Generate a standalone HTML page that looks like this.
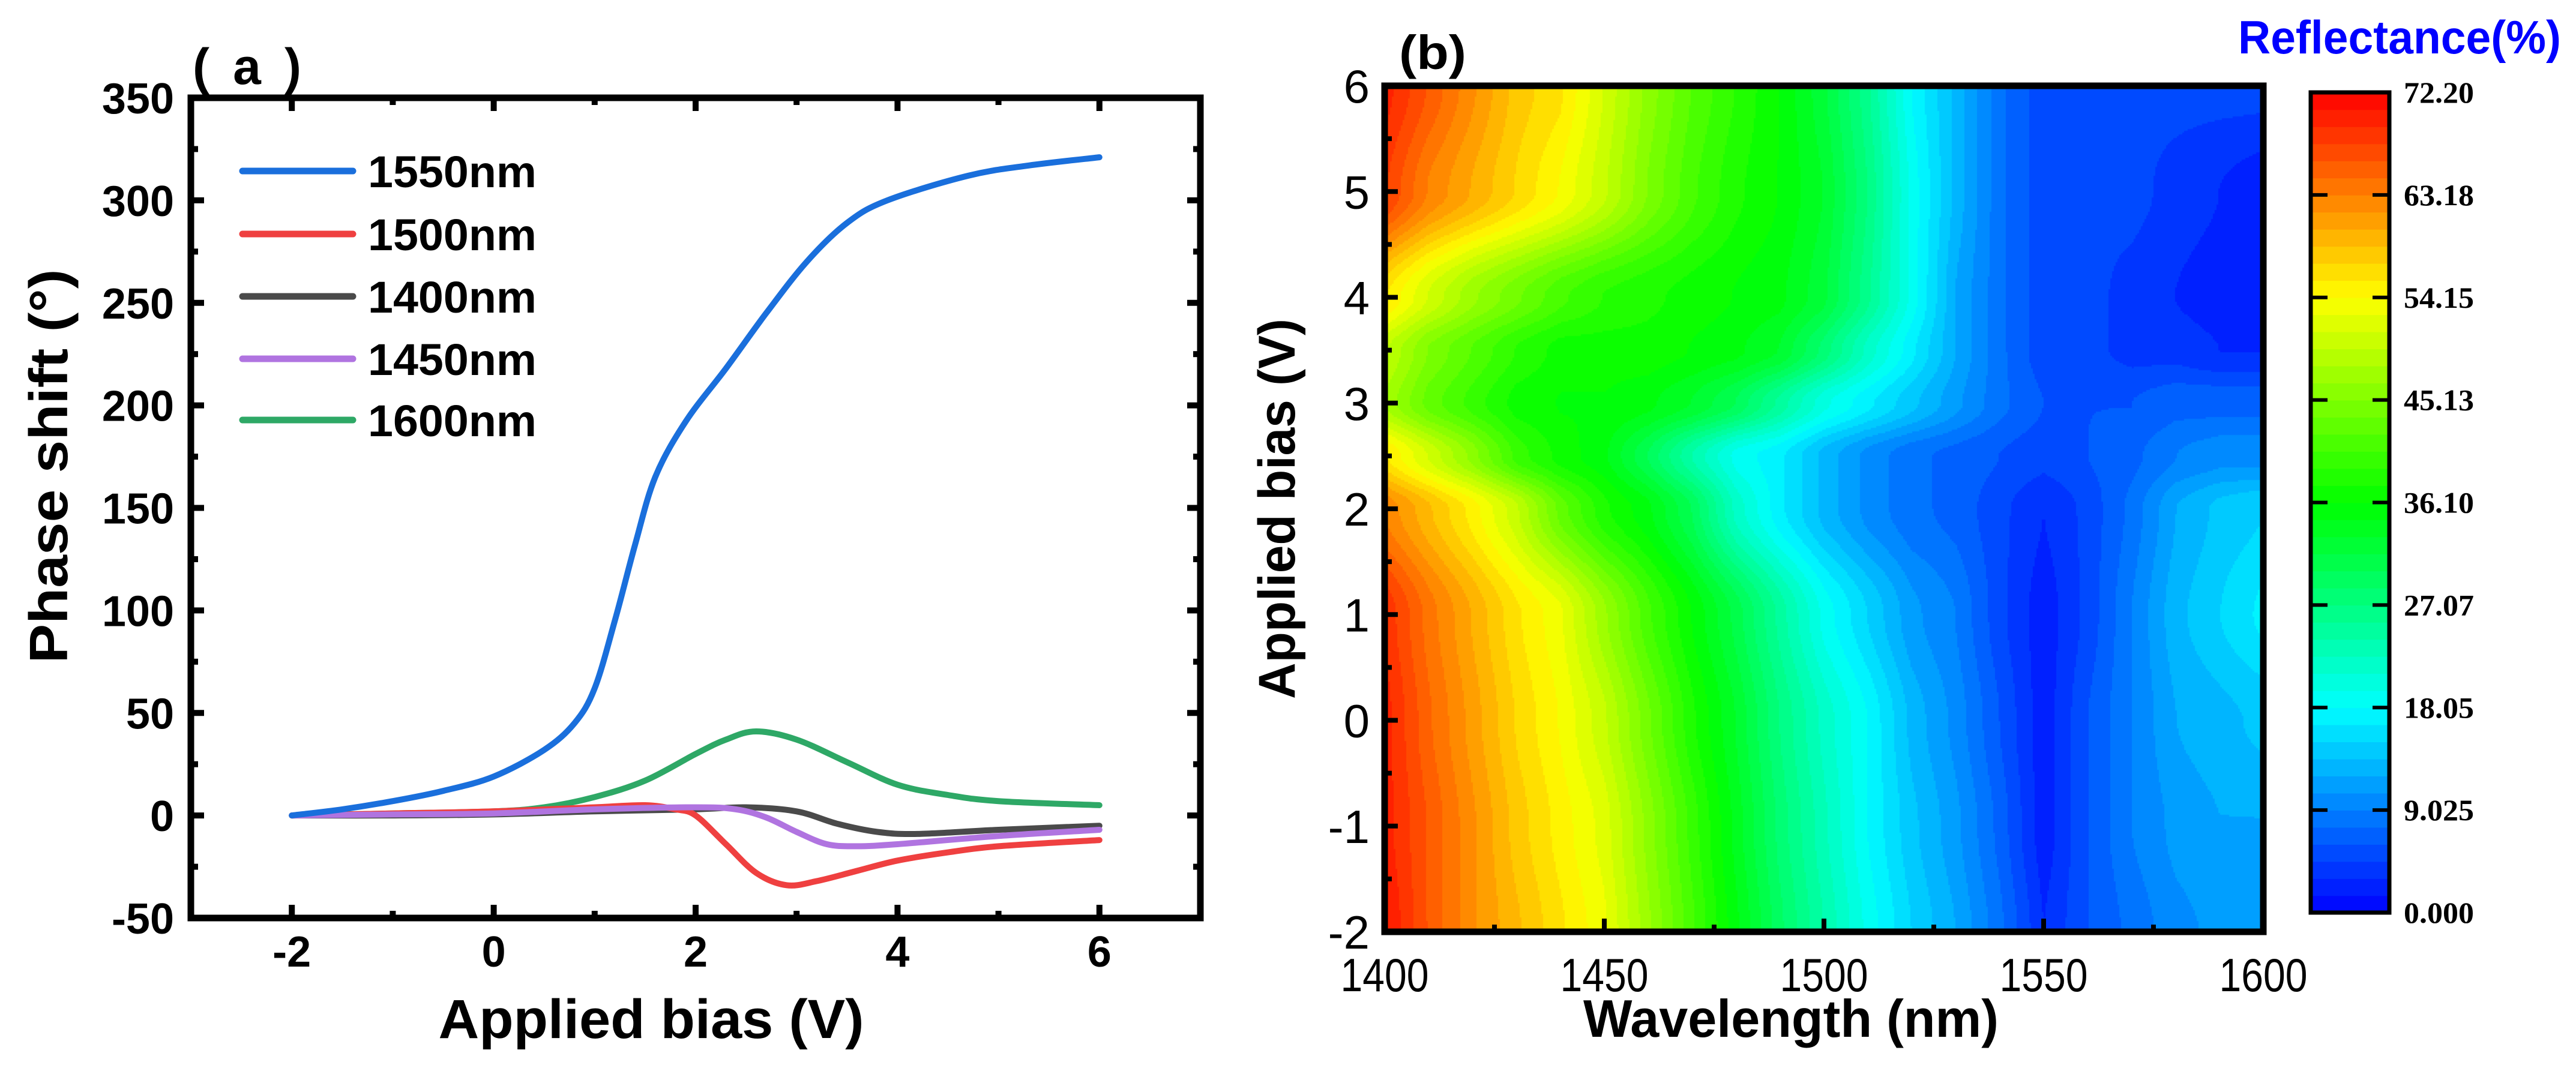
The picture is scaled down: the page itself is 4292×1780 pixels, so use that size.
<!DOCTYPE html>
<html><head><meta charset="utf-8"><style>
html,body{margin:0;padding:0;background:#fff;}
#wrap{position:relative;width:4292px;height:1780px;overflow:hidden;}
#heat{position:absolute;left:2307px;top:143px;}
svg{position:absolute;left:0;top:0;}
text{font-family:"Liberation Sans",sans-serif;}
text.serif{font-family:"Liberation Serif",serif;}
</style></head><body>
<div id="wrap">
<canvas id="heat" width="1464" height="1410"></canvas>
<svg id="svg" width="4292" height="1780"></svg>
</div>
<script>
// ---------- Panel (a) data ----------
const biasA = [-2,-1.5,-1,-0.5,0,0.5,0.8,1,1.2,1.4,1.6,1.9,2.3,2.7,3.1,3.5,3.9,4.7,5.3,6];
const phase1550 = [0,3,7,12,19,32,45,62,95,132,165,192,218,245,270,289,300,312,317,321];
const bias1600 = [-2,-1,0,0.5,1,1.5,2,2.3,2.6,3,3.5,4,4.5,5,6];
const phase1600 = [0,1,2,4,9,17,30,37,41,37,26,15,10,7,5];
const bias1500 = [-2,-1,0,1,1.5,1.8,2,2.3,2.6,2.9,3.2,3.6,4,4.5,5,6];
const phase1500 = [0,1,2,4,5,3,0,-14,-28,-34,-32,-27,-22,-18,-15,-12];
const bias1400 = [-2,-1,0,1,2,2.5,3,3.4,3.8,4.2,5,6];
const phase1400 = [0,0,0.5,2,3,4,2,-4,-8,-9,-7,-5];
const bias1450 = [-2,-1,0,1,2,2.4,2.7,3,3.3,3.6,4,5,6];
const phase1450 = [0,0.5,1,3,4,3,-1,-8,-14,-15,-14,-10,-7];
const xTicksA = [-2,0,2,4,6];
const yTicksA = [-50,0,50,100,150,200,250,300,350];
const legendNames = ["1550nm","1500nm","1400nm","1450nm","1600nm"];

// ---------- Panel (b) data ----------
const wavelengths = [1400,1410,1420,1430,1440,1450,1460,1470,1480,1490,1500,1510,1520,1530,1540,1550,1560,1570,1580,1590,1600];
const biasB = [-2,-1,0,1,2,2.5,3,3.5,4,5,6];
const reflRowM2 = [71,66,62,59,56,53,47,41,35,29,24,19,15,12,8,3,6,8,10,11,11];
const reflRowM1 = [70,66,62,58,55,52,46,40,34,28,23,18,14,11,7,2,6,9,11,12,12];
const reflRow0 = [70,65,61,57,54,50,44,38,33,27,22,18,13,10,6,2,6,9,12,13,14];
const reflRow1 = [69,64,60,56,53,47,41,36,31,25,19,15,11,9,5,2,5,9,13,15,17];
const reflRow2 = [63,59,55,50,43,38,35,30,22,17,13,10,8,7,5,3,5,8,12,14,15];
const reflRow25 = [56,51,46,40,37,35,30,24,19,17,13,10,8,7,6,5,6,7,9,10,10];
const reflRow3 = [48,43,40,37,36,36,35,33,30,25,20,17,14,11,8,6,6,6,7,7,7];
const reflRow35 = [50,45,42,39,37,37,37,36,35,33,28,22,17,12,8,5,5,4,4,3,3];
const reflRow4 = [56,51,47,44,41,39,38,37,36,35,32,26,19,12,8,5,5,4,3,2,2];
const reflRow5 = [68,63,60,57,54,50,45,41,38,36,33,27,19,13,8,5,5,5,4,3,2];
const reflRow6 = [70,66,62,58,56,51,46,42,39,36,32,26,18,13,8,5,5,5,5,5,5];
const reflRows = [reflRowM2,reflRowM1,reflRow0,reflRow1,reflRow2,reflRow25,reflRow3,reflRow35,reflRow4,reflRow5,reflRow6];
const xTicksB = [1400,1450,1500,1550,1600];
const yTicksB = [-2,-1,0,1,2,3,4,5,6];
const cbTicks = ["0.000","9.025","18.05","27.07","36.10","45.13","54.15","63.18","72.20"];
const cbMax = 72.2;
const nLevels = 48;

const NS = "http://www.w3.org/2000/svg";
const svg = document.getElementById('svg');
function mk(tag, attrs, parent){
  const e = document.createElementNS(NS, tag);
  for (const k in attrs) e.setAttribute(k, attrs[k]);
  (parent||svg).appendChild(e);
  return e;
}

// ===== Panel (a) =====
const A = {x0:318, x1:2000, y0:163, y1:1530, xmin:-3, xmax:7, ymin:-50, ymax:350};
const ax = v => A.x0 + (v - A.xmin)/(A.xmax - A.xmin)*(A.x1 - A.x0);
const ay = v => A.y1 - (v - A.ymin)/(A.ymax - A.ymin)*(A.y1 - A.y0);
const gA = mk('g', {});



const seriesA = [
  {x:biasA, y:phase1550, c:'#1a6fdc', n:'line-1550nm'},
  {x:bias1500, y:phase1500, c:'#ef4040', n:'line-1500nm'},
  {x:bias1400, y:phase1400, c:'#4a4a4a', n:'line-1400nm'},
  {x:bias1450, y:phase1450, c:'#b074e0', n:'line-1450nm'},
  {x:bias1600, y:phase1600, c:'#2ea866', n:'line-1600nm'}
];
[4,2,1,3,0].forEach(i=>{
  const s = seriesA[i];
  const P = s.x.map((v,k)=>[ax(v), ay(s.y[k])]);
  let d = 'M'+P[0][0].toFixed(1)+','+P[0][1].toFixed(1);
  for (let k=0;k<P.length-1;k++){
    const p0=P[Math.max(0,k-1)], p1=P[k], p2=P[k+1], p3=P[Math.min(P.length-1,k+2)];
    const c1=[p1[0]+(p2[0]-p0[0])/6, p1[1]+(p2[1]-p0[1])/6];
    const c2=[p2[0]-(p3[0]-p1[0])/6, p2[1]-(p3[1]-p1[1])/6];
    d += ' C'+c1[0].toFixed(1)+','+c1[1].toFixed(1)+' '+c2[0].toFixed(1)+','+c2[1].toFixed(1)+' '+p2[0].toFixed(1)+','+p2[1].toFixed(1);
  }
  const p = mk('path', {d:d, fill:'none', stroke:s.c, 'stroke-width':10, 'stroke-linecap':'round','stroke-linejoin':'round'}, gA);
  
  
});

const frA = mk('rect',{x:A.x0,y:A.y0,width:A.x1-A.x0,height:A.y1-A.y0,fill:'none',stroke:'#000','stroke-width':11},gA);


for (let v=-3; v<=7; v+=1){
  const major = xTicksA.indexOf(v)>=0;
  const L = major?22:12;
  mk('line',{x1:ax(v),x2:ax(v),y1:A.y1,y2:A.y1-L,stroke:'#000','stroke-width':10},gA);
  mk('line',{x1:ax(v),x2:ax(v),y1:A.y0,y2:A.y0+L,stroke:'#000','stroke-width':10},gA);
}
for (let v=-50; v<=350; v+=25){
  const major = (v%50===0);
  const L = major?22:12;
  mk('line',{x1:A.x0,x2:A.x0+L,y1:ay(v),y2:ay(v),stroke:'#000','stroke-width':10},gA);
  mk('line',{x1:A.x1,x2:A.x1-L,y1:ay(v),y2:ay(v),stroke:'#000','stroke-width':10},gA);
}
xTicksA.forEach(v=>{
  const t = mk('text',{x:ax(v),y:1611,'font-size':72,'font-weight':'bold','text-anchor':'middle'},gA);
  t.textContent = v;
  
  
});
yTicksA.forEach(v=>{
  const t = mk('text',{x:290,y:ay(v)+26,'font-size':72,'font-weight':'bold','text-anchor':'end'},gA);
  t.textContent = v;
  
  
});
const legY = [285,390,494,598,700];
legendNames.forEach((n,i)=>{
  const g = mk('g',{},gA);
  
  
  mk('line',{x1:404,x2:588,y1:legY[i],y2:legY[i],stroke:seriesA[i].c,'stroke-width':11,'stroke-linecap':'round'},g);
  const t = mk('text',{x:613,y:legY[i]+27,'font-size':74,'font-weight':'bold',textLength:281,lengthAdjust:'spacingAndGlyphs'},g);
  t.textContent = n;
});
let t;
t = mk('text',{x:1085,y:1730,'font-size':92,'font-weight':'bold','text-anchor':'middle',textLength:709,lengthAdjust:'spacingAndGlyphs'},gA);
t.textContent = 'Applied bias (V)';


t = mk('text',{x:0,y:0,'font-size':90,'font-weight':'bold','text-anchor':'middle',transform:'translate(112,777) rotate(-90)',textLength:657,lengthAdjust:'spacingAndGlyphs'},gA);
t.textContent = 'Phase shift (°)';


t = mk('text',{x:321,y:140,'font-size':84,'font-weight':'bold',textLength:181,lengthAdjust:'spacing'},gA);
t.textContent = '( a )';



// ===== Panel (b) =====
const B = {x0:2307, x1:3771, y0:143, y1:1553, xmin:1400, xmax:1600, ymin:-2, ymax:6};
const bx = v => B.x0 + (v - B.xmin)/(B.xmax - B.xmin)*(B.x1 - B.x0);
const by = v => B.y1 - (v - B.ymin)/(B.ymax - B.ymin)*(B.y1 - B.y0);

function cmap(v){
  const f = Math.max(0, Math.min(1, v/cbMax))*4;
  const stops = [[0,0,255],[0,255,255],[0,255,0],[255,255,0],[255,0,0]];
  const i = Math.min(3, Math.floor(f)), r = f - i;
  const a = stops[i], b = stops[i+1];
  return 'rgb('+Math.round(a[0]+(b[0]-a[0])*r)+','+Math.round(a[1]+(b[1]-a[1])*r)+','+Math.round(a[2]+(b[2]-a[2])*r)+')';
}
function levelColor(v){
  const step = cbMax/nLevels;
  let k = Math.floor(v/step); k = Math.max(0, Math.min(nLevels-1, k));
  return cmap((k+0.5)*step);
}
function interp(arr, v){
  let i=0; while(i<arr.length-2 && v>arr[i+1]) i++;
  return [i, (v-arr[i])/(arr[i+1]-arr[i])];
}
function sm(f){ return f*f*(3-2*f); }
function refl(w, b){
  const [i,fx] = interp(wavelengths, w);
  const [j,fy0] = interp(biasB, b);
  const fy = sm(fy0);
  const r0 = reflRows[j], r1 = reflRows[j+1];
  const v0 = r0[i]*(1-fx)+r0[i+1]*fx;
  const v1 = r1[i]*(1-fx)+r1[i+1]*fx;
  return v0*(1-fy)+v1*fy;
}
const cv = document.getElementById('heat');
const ctx = cv.getContext('2d');
const cell = 3;
for (let py=0; py<cv.height; py+=cell){
  const b = B.ymax - (py+cell/2)/cv.height*(B.ymax-B.ymin);
  for (let px=0; px<cv.width; px+=cell){
    const w = B.xmin + (px+cell/2)/cv.width*(B.xmax-B.xmin);
    ctx.fillStyle = levelColor(refl(w,b));
    ctx.fillRect(px,py,cell,cell);
  }
}
const gB = mk('g',{});


const frB = mk('rect',{x:B.x0,y:B.y0,width:B.x1-B.x0,height:B.y1-B.y0,fill:'none',stroke:'#000','stroke-width':11},gB);


for (let v=1400; v<=1600; v+=25){
  const L = (v%50===0)?22:12;
  mk('line',{x1:bx(v),x2:bx(v),y1:B.y1,y2:B.y1-L,stroke:'#000','stroke-width':8},gB);
}
for (let v=-2; v<=6; v+=0.5){
  const L = (v%1===0)?22:12;
  mk('line',{x1:B.x0,x2:B.x0+L,y1:by(v),y2:by(v),stroke:'#000','stroke-width':8},gB);
}
xTicksB.forEach(v=>{
  const t = mk('text',{x:bx(v),y:1652,'font-size':78,'text-anchor':'middle',textLength:147,lengthAdjust:'spacingAndGlyphs'},gB);
  t.textContent = v;
  
  
});
yTicksB.forEach(v=>{
  const t = mk('text',{x:2282,y:by(v)+28,'font-size':78,'text-anchor':'end'},gB);
  t.textContent = v;
  
  
});
t = mk('text',{x:2984,y:1728,'font-size':88,'font-weight':'bold','text-anchor':'middle',textLength:692,lengthAdjust:'spacingAndGlyphs'},gB);
t.textContent = 'Wavelength (nm)';


t = mk('text',{x:0,y:0,'font-size':86,'font-weight':'bold','text-anchor':'middle',transform:'translate(2157,848) rotate(-90)',textLength:634,lengthAdjust:'spacingAndGlyphs'},gB);
t.textContent = 'Applied bias (V)';


t = mk('text',{x:2331,y:115,'font-size':80,'font-weight':'bold',textLength:112,lengthAdjust:'spacingAndGlyphs'},gB);
t.textContent = '(b)';



const CB = {x0:3850, x1:3981, y0:154, y1:1521};
const gC = mk('g',{},gB);


for (let k=0;k<nLevels;k++){
  const ya = CB.y1 - (k+1)/nLevels*(CB.y1-CB.y0);
  const r = mk('rect',{x:CB.x0,y:ya,width:CB.x1-CB.x0,height:(CB.y1-CB.y0)/nLevels+0.8,fill:cmap((k+0.5)*cbMax/nLevels)},gC);
  
  
}
mk('rect',{x:CB.x0,y:CB.y0,width:CB.x1-CB.x0,height:CB.y1-CB.y0,fill:'none',stroke:'#000','stroke-width':7},gC);
cbTicks.forEach((lab,i)=>{
  const y = CB.y1 - i/(cbTicks.length-1)*(CB.y1-CB.y0);
  if (i>0 && i<cbTicks.length-1){
    mk('line',{x1:CB.x0,x2:CB.x0+28,y1:y,y2:y,stroke:'#000','stroke-width':6},gC);
    mk('line',{x1:CB.x1,x2:CB.x1-28,y1:y,y2:y,stroke:'#000','stroke-width':6},gC);
  }
  const t = mk('text',{x:4005,y:y+17,'font-size':50,'font-weight':'bold','class':'serif',style:'font-family:"Liberation Serif",serif',textLength:117,lengthAdjust:'spacingAndGlyphs'},gC);
  t.textContent = lab;
  
  
});
t = mk('text',{x:3729,y:89,'font-size':78,'font-weight':'bold',fill:'#0000ff',textLength:538,lengthAdjust:'spacingAndGlyphs'},gB);
t.textContent = 'Reflectance(%)';


</script>
</body></html>
